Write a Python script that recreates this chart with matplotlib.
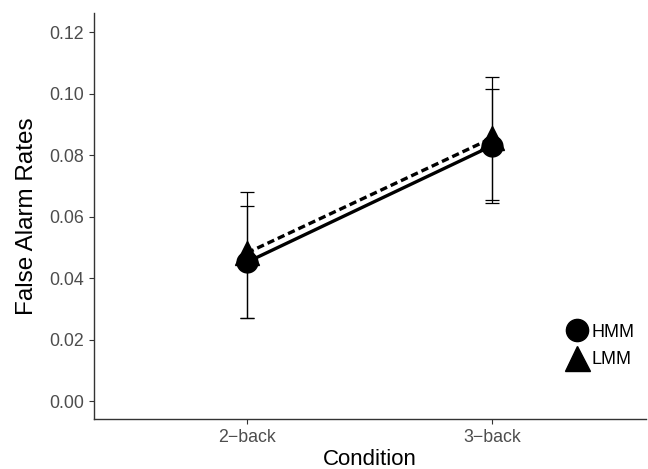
import matplotlib
matplotlib.use("Agg")
import matplotlib.pyplot as plt
from matplotlib.lines import Line2D

plt.rcParams['font.family'] = ['Liberation Sans', 'DejaVu Sans']

conditions = ["2\u2212back", "3\u2212back"]
groups = ["HMM", "LMM"]
hmm_mean = [0.0452, 0.0830]
hmm_lo = [0.0272, 0.0645]
hmm_hi = [0.0636, 0.1015]
lmm_mean = [0.0482, 0.0855]
lmm_lo = [0.0272, 0.0655]
lmm_hi = [0.0681, 0.1054]
yticks = [0.00, 0.02, 0.04, 0.06, 0.08, 0.10, 0.12]

fig = plt.figure(figsize=(6.48, 4.69), dpi=100)
ax = fig.add_axes([94 / 648, 1 - 419 / 469, (646 - 94) / 648, (419 - 13) / 469])

x = [1, 2]

def draw(mean, lo, hi, marker, ls, ms):
    yerr = [[m - l for m, l in zip(mean, lo)], [h - m for m, h in zip(mean, hi)]]
    ax.errorbar(x, mean, yerr=yerr, fmt="none", ecolor="black", elinewidth=0.9,
                capsize=4.8, capthick=0.9, zorder=2)
    ax.plot(x, mean, color="black", linestyle=ls, linewidth=2.4, zorder=3)
    ax.plot(x, mean, linestyle="none", marker=marker, color="black",
            markersize=ms, zorder=4)

draw(hmm_mean, hmm_lo, hmm_hi, "o", "-", 15)
draw(lmm_mean, lmm_lo, lmm_hi, "^", (0, (2.2, 1.2)), 17)

ax.set_xlim(0.375, 2.63)
ax.set_ylim(-0.0058, 0.1262)
ax.set_xticks(x)
ax.set_xticklabels(conditions)
ax.set_yticks(yticks)
ax.set_yticklabels(["%.2f" % v for v in yticks])
ax.tick_params(axis="both", colors="#333333", labelcolor="#4d4d4d",
               labelsize=12.8, length=3.5, width=0.8, direction="out")

for side in ["top", "right"]:
    ax.spines[side].set_visible(False)
for side in ["left", "bottom"]:
    ax.spines[side].set_color("#333333")
    ax.spines[side].set_linewidth(1.0)

ax.set_xlabel("Condition", fontsize=16, color="black", labelpad=2)
ax.set_ylabel("False Alarm Rates", fontsize=17.5, color="black", labelpad=8)

handles = [
    Line2D([], [], linestyle="none", marker="o", color="black", markersize=16),
    Line2D([], [], linestyle="none", marker="^", color="black", markersize=18),
]
ax.legend(handles, groups, loc="center left", bbox_to_anchor=(0.843, 0.18),
          frameon=False, fontsize=13, handlelength=1.0, handletextpad=0.3,
          labelspacing=0.6, borderpad=0)

fig.savefig("out.png", dpi=100)
